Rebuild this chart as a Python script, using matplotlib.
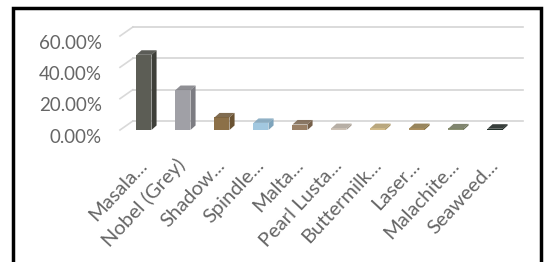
import numpy as np
import matplotlib.pyplot as plt
from matplotlib.patches import Polygon, Rectangle

categories = ["Masala...", "Nobel (Grey)", "Shadow...", "Spindle...", "Malta...",
              "Pearl Lusta...", "Buttermilk...", "Laser...", "Malachite...", "Seaweed..."]
values = [48.0, 25.5, 8.0, 4.5, 3.5, 1.2, 1.2, 1.2, 1.0, 0.8]
front_colors = ["#5c5d55", "#a0a0a6", "#8c7048", "#a2c8e0", "#9a8066",
                "#cdc2b6", "#d2bc8c", "#ab9060", "#8c9274", "#25322c"]
side_colors = ["#3e3f39", "#7c7c82", "#6a5232", "#7ea4bc", "#76604a",
               "#aaa095", "#ad9868", "#86703f", "#6a7056", "#141c18"]
yticks = [0, 20, 40, 60]

plt.rcParams['font.family'] = ['Lato', 'DejaVu Sans']

fig = plt.figure(figsize=(5.49, 2.62), dpi=100)
W, H = 549, 262
ax = fig.add_axes([120 / W, (H - 130) / H, (523 - 120) / W, 103 / H])
ax.set_xlim(-0.615, 9.718)
ax.set_ylim(0, 65.75)
ax.axis("off")

# depth offsets (data units)
wall_dx, wall_dy = 0.33, 5.75
bar_dx, bar_dy = 0.13, 2.9
bw = 0.385

# back-wall gridlines with diagonal floor/side edge
for v in yticks:
    ax.plot([-0.615, -0.615 + wall_dx], [v, v + wall_dy], color="#d9d9d9", lw=1.2,
            zorder=1, clip_on=False)
    ax.plot([-0.615 + wall_dx, 9.718], [v + wall_dy, v + wall_dy], color="#d4d4d4",
            lw=1.2, zorder=1, clip_on=False)
    ax.text(-1.08, v - 4.5, f"{v:.2f}%", ha="right", va="center", fontsize=13.5,
            color="#666666", clip_on=False)

x = np.arange(len(categories))
ax.bar(x, values, width=bw, color=front_colors, zorder=3, linewidth=0)
for i, v in enumerate(values):
    l, r = x[i] - bw / 2, x[i] + bw / 2
    side = Polygon([(r, 0), (r + bar_dx, bar_dy), (r + bar_dx, v + bar_dy), (r, v)],
                   closed=True, color=side_colors[i], zorder=3, lw=0)
    top = Polygon([(l, v), (l + bar_dx, v + bar_dy), (r + bar_dx, v + bar_dy), (r, v)],
                  closed=True, color=side_colors[i], zorder=3, lw=0, alpha=0.85)
    ax.add_patch(side)
    ax.add_patch(top)
    ax.text(x[i] + 0.1, -23, categories[i], rotation=47, rotation_mode="anchor",
            ha="right", va="baseline", fontsize=14.5, color="#666666", clip_on=False)

# outer frame
fig.patches.append(Rectangle((13 / W, -0.1), (541 - 13) / W, 1.1 - 8 / H,
                             transform=fig.transFigure, fill=False, edgecolor="black",
                             lw=2.5))

fig.savefig("out.png", dpi=100)
